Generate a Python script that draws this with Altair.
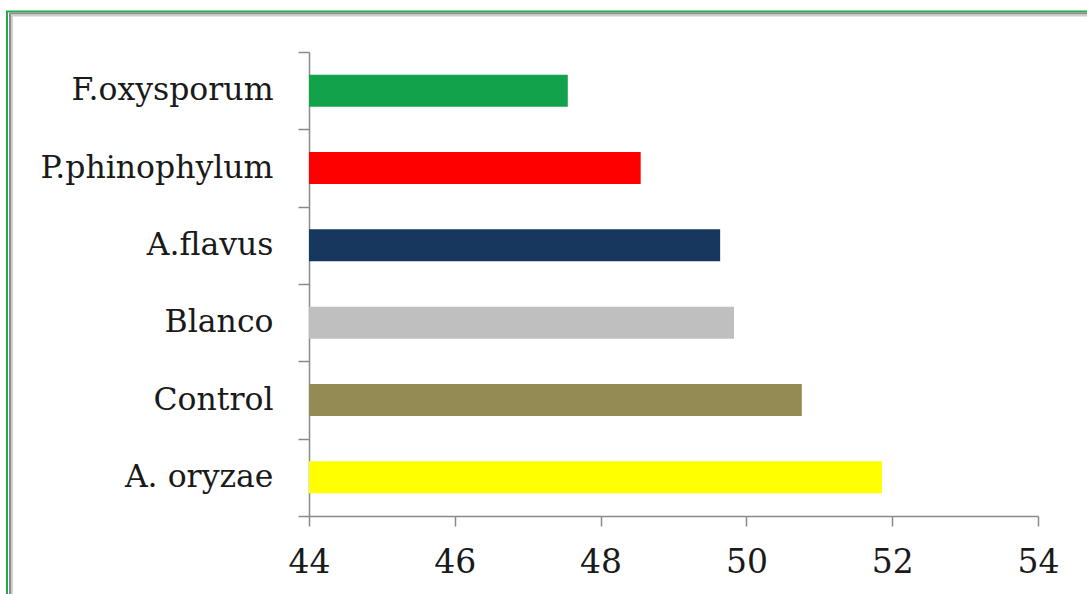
import altair as alt
import pandas as pd

# Categories (top to bottom) and measured values
categories = ["F.oxysporum", "P.phinophylum", "A.flavus", "Blanco", "Control", "A. oryzae"]
values = [47.55, 48.55, 49.64, 49.83, 50.76, 51.86]
bar_colors = ["#12a24c", "#ff0000", "#17375e", "#bfbfbf", "#948a54", "#ffff00"]
x_ticks = [44, 46, 48, 50, 52, 54]
x_domain = [44, 54]

df = pd.DataFrame({"organism": categories, "value": values, "color": bar_colors})

PLOT_W, PLOT_H = 729, 464
PAD = {"left": 309, "top": 52, "right": 1087 - 309 - PLOT_W, "bottom": 594 - 52 - PLOT_H}
FONT = "DejaVu Serif"
AXIS_GRAY = "#8a8a8a"

bars = alt.Chart(df).mark_bar(size=32).encode(
    y=alt.Y(
        "organism:N",
        sort=categories,
        scale=alt.Scale(paddingInner=0, paddingOuter=0),
        axis=alt.Axis(
            title=None,
            tickBand="extent",
            tickSize=11,
            tickColor=AXIS_GRAY,
            tickWidth=1.5,
            domainColor=AXIS_GRAY,
            domainWidth=1.5,
            labelFont=FONT,
            labelFontSize=31.5,
            labelColor="#1a1a1a",
            labelPadding=25,
            labelLimit=400,
            grid=False,
        ),
    ),
    x=alt.X(
        "value:Q",
        scale=alt.Scale(domain=x_domain, zero=False, nice=False),
        axis=alt.Axis(
            title=None,
            values=x_ticks,
            tickSize=10,
            tickColor=AXIS_GRAY,
            tickWidth=1.5,
            domainColor=AXIS_GRAY,
            domainWidth=1.5,
            labelFont=FONT,
            labelFontSize=33,
            labelColor="#1a1a1a",
            labelPadding=20,
            labelFlush=False,
            labelAlign="center",
            grid=False,
        ),
    ),
    x2=alt.datum(x_domain[0]),
    color=alt.Color("color:N", scale=None, legend=None),
)

# Decorative frame along the left and top edges of the canvas
frame_src = alt.Chart(pd.DataFrame({"k": [0]}))
left_green = frame_src.mark_rule(color="#1fae4f", strokeWidth=2).encode(
    x=alt.value(7 - PAD["left"]), y=alt.value(11 - PAD["top"]), y2=alt.value(594 - PAD["top"])
)
left_gray = frame_src.mark_rule(color="#8c8c8c", strokeWidth=2).encode(
    x=alt.value(10 - PAD["left"]), y=alt.value(13 - PAD["top"]), y2=alt.value(594 - PAD["top"])
)
left_light = frame_src.mark_rule(color="#cfcfcf", strokeWidth=2).encode(
    x=alt.value(12 - PAD["left"]), y=alt.value(15 - PAD["top"]), y2=alt.value(594 - PAD["top"])
)
top_green = frame_src.mark_rule(color="#1fae4f", strokeWidth=2).encode(
    y=alt.value(11.5 - PAD["top"]), x=alt.value(6 - PAD["left"]), x2=alt.value(1087 - PAD["left"])
)
top_gray = frame_src.mark_rule(color="#8c8c8c", strokeWidth=2).encode(
    y=alt.value(13.5 - PAD["top"]), x=alt.value(9 - PAD["left"]), x2=alt.value(1087 - PAD["left"])
)
top_light = frame_src.mark_rule(color="#cfcfcf", strokeWidth=2).encode(
    y=alt.value(15.5 - PAD["top"]), x=alt.value(11 - PAD["left"]), x2=alt.value(1087 - PAD["left"])
)

chart = (
    alt.layer(left_green, left_gray, left_light, top_green, top_gray, top_light, bars)
    .properties(
        width=PLOT_W,
        height=PLOT_H,
        padding=PAD,
        autosize=alt.AutoSizeParams(type="none"),
        background="white",
    )
    .configure_view(stroke=None)
)

chart.save("out.html", embed_options={"renderer": "svg", "actions": False})
